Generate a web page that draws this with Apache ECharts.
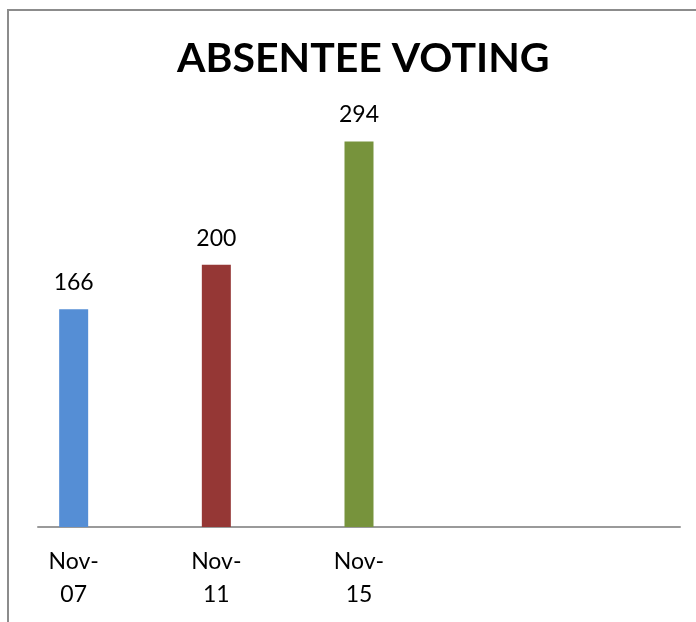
<!DOCTYPE html>
<html>
<head>
<meta charset="utf-8">
<script src="https://cdn.jsdelivr.net/npm/echarts@6/dist/echarts.min.js"></script>
<style>
    html, body {
        margin: 0;
        padding: 0;
        background: #ffffff;
    }

    #chart {
        width: 696px;
        height: 622px;
    }
</style>
</head>
<body>
<div id="chart"></div>
<script>
    // data
    const categories = ["Nov-\n07", "", "Nov-\n11", "", "Nov-\n15", "", "", "", ""]
    const votes = [166, null, 200, null, 294, null, null, null, null]
    const barColors = ["#558ED5", null, "#953735", null, "#77933C", null, null, null, null]

    const chart = echarts.init(document.getElementById("chart"), null, {renderer: "canvas"})

    const option = {
        backgroundColor: "#ffffff",
        animation: false,
        title: {
            text: "ABSENTEE VOTING",
            left: 172,
            top: 33,
            textStyle: {
                fontFamily: "Lato",
                fontWeight: "bold",
                fontSize: 41,
                color: "#000000"
            }
        },
        // chart frame
        graphic: [
            {
                type: "rect",
                shape: {x: 8, y: 10, width: 720, height: 700},
                style: {fill: "none", stroke: "#8c8c8c", lineWidth: 2},
                silent: true
            }
        ],
        grid: {
            left: 38,
            right: 16,
            top: 68,
            bottom: 95
        },
        xAxis: {
            type: "category",
            data: categories,
            axisLine: {
                lineStyle: {color: "#9a9a9a", width: 2}
            },
            axisTick: {show: false},
            axisLabel: {
                interval: 0,
                margin: 18,
                fontFamily: "Lato",
                fontSize: 23,
                lineHeight: 33,
                color: "#000000"
            }
        },
        yAxis: {
            type: "value",
            min: 0,
            max: 350,
            show: false,
            splitLine: {show: false}
        },
        series: [
            {
                type: "bar",
                barWidth: 29,
                data: votes.map((v, i) => v === null ? "-" : {
                    value: v,
                    itemStyle: {color: barColors[i]}
                }),
                label: {
                    show: true,
                    position: "top",
                    distance: 15,
                    fontFamily: "Lato",
                    fontSize: 23,
                    color: "#000000"
                }
            }
        ]
    }

    chart.setOption(option)
</script>
</body>
</html>
